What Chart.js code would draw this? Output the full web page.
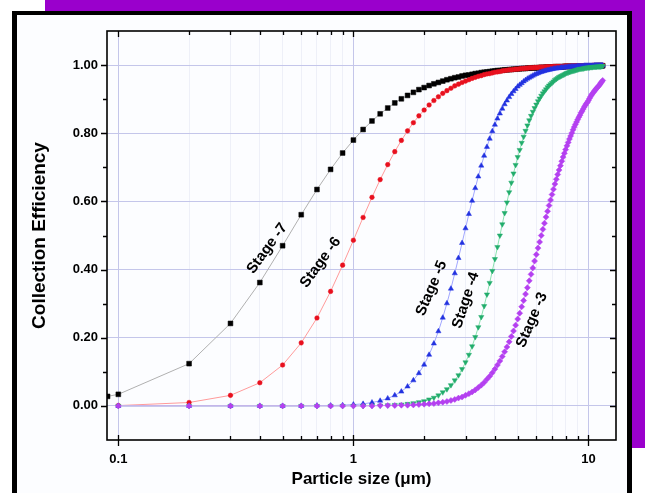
<!DOCTYPE html>
<html lang="en">
  <head>
    <meta charset="UTF-8" />
    <title>Collection Efficiency</title>
    <style>
      html, body { margin: 0; padding: 0; background: #ffffff; }
      body { width: 645px; height: 493px; position: relative; overflow: hidden; }
      .band-top { position: absolute; left: 45px; top: 0; width: 600px; height: 11px; background: #9a00cc; }
      .band-right { position: absolute; left: 632px; top: 0; width: 13px; height: 448px; background: #9a00cc; }
      .frame {
        position: absolute; left: 12px; top: 11px; width: 610px; height: 500px;
        border-left: 5px solid #000; border-top: 4px solid #000; border-right: 5px solid #000;
        background: #fcfdff;
      }
      #chart { position: absolute; left: 0; top: 0; }
    </style>
  </head>
  <body>
    <div class="band-top"></div>
    <div class="band-right"></div>
    <div class="frame"></div>
    <canvas id="chart" width="645" height="493"></canvas>

    <script src="https://cdn.jsdelivr.net/npm/chart.js"></script>
    <script>
      // particle size (um) of each computed point
      const sizes = [
        0.09,
        0.1, 0.2, 0.3, 0.4, 0.5, 0.6, 0.7, 0.8, 0.9, 1.0,
        1.1, 1.2, 1.3, 1.4, 1.5, 1.6, 1.7, 1.8, 1.9, 2.0,
        2.1, 2.2, 2.3, 2.4, 2.5, 2.6, 2.7, 2.8, 2.9, 3.0,
        3.1, 3.2, 3.3, 3.4, 3.5, 3.6, 3.7, 3.8, 3.9, 4.0,
        4.1, 4.2, 4.3, 4.4, 4.5, 4.6, 4.7, 4.8, 4.9, 5.0,
        5.1, 5.2, 5.3, 5.4, 5.5, 5.6, 5.7, 5.8, 5.9, 6.0,
        6.1, 6.2, 6.3, 6.4, 6.5, 6.6, 6.7, 6.8, 6.9, 7.0,
        7.1, 7.2, 7.3, 7.4, 7.5, 7.6, 7.7, 7.8, 7.9, 8.0,
        8.1, 8.2, 8.3, 8.4, 8.5, 8.6, 8.7, 8.8, 8.9, 9.0,
        9.1, 9.2, 9.3, 9.4, 9.5, 9.6, 9.7, 9.8, 9.9, 10.0,
        10.1, 10.2, 10.3, 10.4, 10.5, 10.6, 10.7, 10.8, 10.9, 11.0,
        11.1, 11.2, 11.3, 11.4, 11.5
      ];

      const stage7 = [
        0.028,
        0.034, 0.124, 0.242, 0.362, 0.470, 0.561, 0.635, 0.694, 0.742, 0.780,
        0.811, 0.836, 0.857, 0.874, 0.889, 0.901, 0.911, 0.920, 0.928, 0.934,
        0.940, 0.945, 0.949, 0.953, 0.957, 0.960, 0.963, 0.965, 0.968, 0.970,
        0.971, 0.973, 0.975, 0.976, 0.978, 0.979, 0.980, 0.981, 0.982, 0.983,
        0.984, 0.984, 0.985, 0.986, 0.986, 0.987, 0.987, 0.988, 0.988, 0.989,
        0.989, 0.990, 0.990, 0.990, 0.991, 0.991, 0.991, 0.992, 0.992, 0.992,
        0.992, 0.993, 0.993, 0.993, 0.993, 0.994, 0.994, 0.994, 0.994, 0.994,
        0.994, 0.995, 0.995, 0.995, 0.995, 0.995, 0.995, 0.995, 0.996, 0.996,
        0.996, 0.996, 0.996, 0.996, 0.996, 0.996, 0.996, 0.996, 0.996, 0.997,
        0.997, 0.997, 0.997, 0.997, 0.997, 0.997, 0.997, 0.997, 0.997, 0.997,
        0.997, 0.997, 0.997, 0.997, 0.997, 0.997, 0.997, 0.998, 0.998, 0.998,
        0.998, 0.998, 0.998, 0.998, 0.998
      ];

      const stage6 = [
        null,
        0.001, 0.010, 0.031, 0.068, 0.120, 0.185, 0.258, 0.336, 0.413, 0.486,
        0.553, 0.612, 0.664, 0.708, 0.746, 0.779, 0.807, 0.831, 0.851, 0.868,
        0.883, 0.896, 0.907, 0.917, 0.925, 0.932, 0.939, 0.944, 0.949, 0.953,
        0.957, 0.961, 0.964, 0.967, 0.969, 0.972, 0.974, 0.975, 0.977, 0.979,
        0.980, 0.981, 0.983, 0.984, 0.985, 0.986, 0.986, 0.987, 0.988, 0.988,
        0.989, 0.990, 0.990, 0.991, 0.991, 0.992, 0.992, 0.992, 0.993, 0.993,
        0.993, 0.994, 0.994, 0.994, 0.994, 0.995, 0.995, 0.995, 0.995, 0.995,
        0.996, 0.996, 0.996, 0.996, 0.996, 0.996, 0.996, 0.996, 0.997, 0.997,
        0.997, 0.997, 0.997, 0.997, 0.997, 0.997, 0.998, 0.998, 0.998, 0.998,
        0.998, 0.998, 0.998, 0.998, 0.998, 0.998, 0.998, 0.998, 0.998, 0.998,
        0.998, 0.998, 0.998, 0.999, 0.999, 0.999, 0.999, 0.999, 0.999, 0.999,
        0.999, 0.999, 0.999, 0.999, 0.999
      ];

      const stage5 = [
        null,
        0.000, 0.000, 0.000, 0.000, 0.000, 0.000, 0.001, 0.001, 0.002, 0.004,
        0.006, 0.010, 0.015, 0.022, 0.031, 0.042, 0.057, 0.075, 0.096, 0.121,
        0.150, 0.183, 0.219, 0.259, 0.301, 0.344, 0.389, 0.434, 0.478, 0.521,
        0.563, 0.602, 0.639, 0.673, 0.705, 0.734, 0.760, 0.784, 0.806, 0.825,
        0.843, 0.858, 0.872, 0.885, 0.896, 0.906, 0.915, 0.923, 0.930, 0.937,
        0.942, 0.947, 0.952, 0.956, 0.960, 0.963, 0.966, 0.969, 0.972, 0.974,
        0.976, 0.978, 0.980, 0.981, 0.983, 0.984, 0.985, 0.986, 0.987, 0.988,
        0.989, 0.990, 0.990, 0.991, 0.991, 0.992, 0.993, 0.993, 0.993, 0.994,
        0.994, 0.995, 0.995, 0.995, 0.996, 0.996, 0.996, 0.996, 0.996, 0.997,
        0.997, 0.997, 0.997, 0.997, 0.997, 0.998, 0.998, 0.998, 0.998, 0.998,
        0.998, 0.998, 0.998, 0.998, 0.998, 0.999, 0.999, 0.999, 0.999, 0.999,
        0.999, 0.999, 0.999, 0.999, 0.999
      ];

      const stage4 = [
        null,
        0.000, 0.000, 0.000, 0.000, 0.000, 0.000, 0.000, 0.000, 0.000, 0.000,
        0.000, 0.001, 0.001, 0.002, 0.003, 0.004, 0.006, 0.008, 0.011, 0.014,
        0.019, 0.024, 0.031, 0.040, 0.049, 0.061, 0.075, 0.090, 0.108, 0.128,
        0.150, 0.175, 0.202, 0.231, 0.261, 0.293, 0.327, 0.361, 0.396, 0.431,
        0.466, 0.500, 0.533, 0.566, 0.597, 0.627, 0.655, 0.682, 0.707, 0.730,
        0.751, 0.772, 0.790, 0.807, 0.823, 0.838, 0.851, 0.863, 0.874, 0.884,
        0.894, 0.902, 0.910, 0.917, 0.923, 0.929, 0.935, 0.940, 0.944, 0.948,
        0.952, 0.956, 0.959, 0.962, 0.965, 0.967, 0.969, 0.971, 0.973, 0.975,
        0.977, 0.978, 0.980, 0.981, 0.982, 0.983, 0.984, 0.985, 0.986, 0.987,
        0.988, 0.989, 0.989, 0.990, 0.990, 0.991, 0.992, 0.992, 0.993, 0.993,
        0.993, 0.994, 0.994, 0.994, 0.995, 0.995, 0.995, 0.995, 0.996, 0.996,
        0.996, 0.996, 0.996, 0.997, 0.997
      ];

      const stage3 = [
        null,
        0.000, 0.000, 0.000, 0.000, 0.000, 0.000, 0.000, 0.000, 0.000, 0.000,
        0.000, 0.000, 0.001, 0.001, 0.001, 0.002, 0.002, 0.003, 0.004, 0.005,
        0.006, 0.007, 0.009, 0.011, 0.013, 0.016, 0.019, 0.023, 0.026, 0.031,
        0.036, 0.041, 0.047, 0.054, 0.061, 0.069, 0.078, 0.087, 0.097, 0.108,
        0.120, 0.132, 0.145, 0.159, 0.173, 0.188, 0.204, 0.220, 0.237, 0.255,
        0.272, 0.291, 0.309, 0.328, 0.347, 0.367, 0.386, 0.405, 0.425, 0.444,
        0.463, 0.481, 0.500, 0.518, 0.536, 0.554, 0.571, 0.588, 0.604, 0.620,
        0.636, 0.651, 0.665, 0.679, 0.692, 0.705, 0.718, 0.730, 0.741, 0.752,
        0.763, 0.773, 0.783, 0.792, 0.801, 0.810, 0.818, 0.826, 0.833, 0.840,
        0.847, 0.853, 0.860, 0.865, 0.871, 0.877, 0.882, 0.887, 0.891, 0.896,
        0.902, 0.907, 0.912, 0.916, 0.920, 0.924, 0.927, 0.931, 0.934, 0.937,
        0.940, 0.944, 0.948, 0.951, 0.955
      ];

      const stageNames = ["Stage -7", "Stage -6", "Stage -5", "Stage -4", "Stage -3"];
      const stageSeries = [stage7, stage6, stage5, stage4, stage3];

      // axis ticks
      const xMajorTicks = [0.1, 1, 10];
      const xMinorTicks = [0.2, 0.3, 0.4, 0.5, 0.6, 0.7, 0.8, 0.9, 2, 3, 4, 5, 6, 7, 8, 9];
      const yMajorTicks = [0, 0.2, 0.4, 0.6, 0.8, 1.0];
      const yMinorTicks = [0.1, 0.3, 0.5, 0.7, 0.9];

      // where the curve names sit (data units) and their slant
      const labelX = [0.43, 0.725, 2.15, 3.01, 5.75];
      const labelY = [0.462, 0.421, 0.345, 0.31, 0.252];
      const labelAngle = [-54, -54, -67, -72, -67];

      const looks = [
        { style: "rect", color: "#000000", line: "#b0b0b0", r: 3.4, rot: 0 },
        { style: "circle", color: "#e8101e", line: "#ff9a9a", r: 2.3, rot: 0 },
        { style: "triangle", color: "#2232e0", line: "#a0a6ff", r: 3, rot: 0 },
        { style: "triangle", color: "#22ad6c", line: "#8ae2b0", r: 3, rot: 180 },
        { style: "rectRot", color: "#b440f0", line: "#e2a6ff", r: 3, rot: 0 },
      ];

      Chart.defaults.font.family = '"Liberation Sans", Arial, sans-serif';
      Chart.defaults.color = "#000";

      const datasets = stageSeries.map((vals, i) => ({
        label: stageNames[i],
        data: sizes.map((s, j) => ({ x: s, y: vals[j] })),
        borderColor: looks[i].line,
        borderWidth: 1,
        pointStyle: looks[i].style,
        pointRotation: looks[i].rot,
        pointRadius: looks[i].r,
        pointBackgroundColor: looks[i].color,
        pointBorderColor: looks[i].color,
        pointBorderWidth: 0.5,
        tension: 0,
        order: stageSeries.length - 1 - i,
      }));

      const framePlugin = {
        id: "frame",
        afterDatasetsDraw(chart) {
          const { ctx, chartArea: a, scales } = chart;
          const x = scales.x, y = scales.y;
          ctx.save();
          ctx.strokeStyle = "#000";
          ctx.lineWidth = 1.6;
          ctx.strokeRect(a.left, a.top, a.right - a.left, a.bottom - a.top);

          ctx.lineWidth = 1.3;
          ctx.beginPath();
          xMajorTicks.forEach((v) => {
            const px = Math.round(x.getPixelForValue(v)) + 0.5;
            ctx.moveTo(px, a.bottom - 5); ctx.lineTo(px, a.bottom + 6);
            ctx.moveTo(px, a.top); ctx.lineTo(px, a.top + 6);
          });
          xMinorTicks.forEach((v) => {
            const px = Math.round(x.getPixelForValue(v)) + 0.5;
            ctx.moveTo(px, a.bottom); ctx.lineTo(px, a.bottom - 4);
            ctx.moveTo(px, a.top); ctx.lineTo(px, a.top + 4);
          });
          yMajorTicks.forEach((v) => {
            const py = Math.round(y.getPixelForValue(v)) + 0.5;
            ctx.moveTo(a.left - 6, py); ctx.lineTo(a.left, py);
            ctx.moveTo(a.right - 6, py); ctx.lineTo(a.right, py);
          });
          yMinorTicks.forEach((v) => {
            const py = Math.round(y.getPixelForValue(v)) + 0.5;
            ctx.moveTo(a.left - 4, py); ctx.lineTo(a.left, py);
            ctx.moveTo(a.right - 4, py); ctx.lineTo(a.right, py);
          });
          ctx.stroke();

          ctx.fillStyle = "#000";
          ctx.font = 'bold 15px "Liberation Sans", Arial, sans-serif';
          ctx.textAlign = "center";
          ctx.textBaseline = "middle";
          stageNames.forEach((name, i) => {
            ctx.save();
            ctx.translate(x.getPixelForValue(labelX[i]), y.getPixelForValue(labelY[i]));
            ctx.rotate((labelAngle[i] * Math.PI) / 180);
            ctx.fillText(name, 0, 0);
            ctx.restore();
          });
          ctx.restore();
        },
      };

      new Chart(document.getElementById("chart"), {
        type: "line",
        data: { datasets },
        plugins: [framePlugin],
        options: {
          responsive: false,
          animation: false,
          devicePixelRatio: 1,
          layout: { padding: { left: 0, top: 31, right: 29, bottom: 0 } },
          plugins: { legend: { display: false }, tooltip: { enabled: false } },
          scales: {
            x: {
              type: "logarithmic",
              min: 0.0895,
              max: 13.1,
              afterBuildTicks: (s) => {
                s.ticks = xMajorTicks.concat(xMinorTicks).sort((p, q) => p - q).map((v) => ({ value: v }));
              },
              afterFit: (s) => { s.height = 53; },
              ticks: {
                autoSkip: false,
                maxRotation: 0,
                padding: 12,
                font: { size: 13, weight: "bold" },
                callback: (v) => (xMajorTicks.includes(v) ? String(v) : ""),
              },
              grid: {
                drawTicks: false,
                color: (c) => (c.tick && xMajorTicks.includes(c.tick.value) ? "#c4c6ea" : "#eef0f8"),
                lineWidth: 1,
              },
              border: { display: false },
              title: {
                display: true,
                text: "Particle size (μm)",
                font: { size: 17, weight: "bold" },
                padding: { top: 0, bottom: 3 },
              },
            },
            y: {
              min: -0.1,
              max: 1.1,
              afterBuildTicks: (s) => {
                s.ticks = yMajorTicks.map((v) => ({ value: v }));
              },
              afterFit: (s) => { s.width = 107; },
              ticks: {
                padding: 9,
                font: { size: 13, weight: "bold" },
                callback: (v) => Number(v).toFixed(2),
              },
              grid: { drawTicks: false, color: "#c4c6ea", lineWidth: 1 },
              border: { display: false },
              title: {
                display: true,
                text: "Collection Efficiency",
                font: { size: 19, weight: "bold" },
                padding: { top: 28, bottom: 0 },
              },
            },
          },
        },
      });
    </script>
  </body>
</html>
